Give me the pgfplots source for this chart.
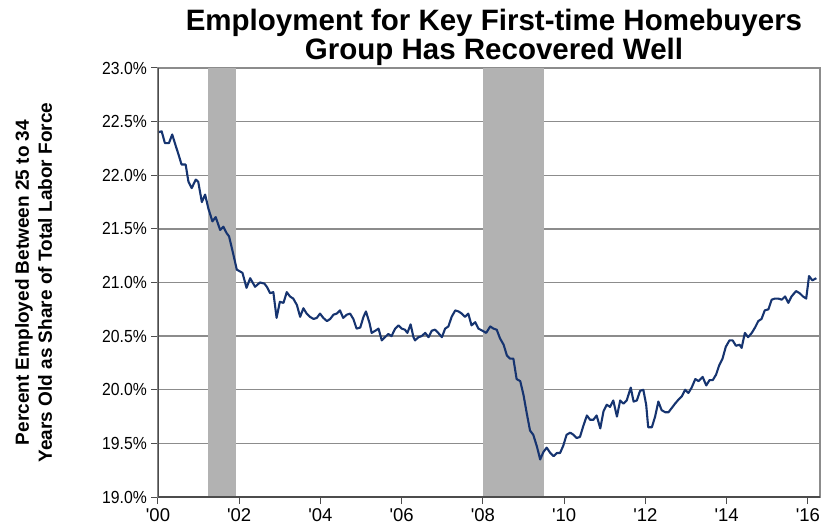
\documentclass[border=0pt]{standalone}
\usepackage{pgfplots}
\pgfplotsset{compat=1.18}
\usepackage{fontspec}
\setmainfont{Liberation Sans}

\definecolor{navy}{RGB}{22,52,112}
\definecolor{band}{RGB}{178,178,178}
\definecolor{gridgray}{RGB}{140,140,140}

\pgfplotstableread{
year share
2000.00 22.40
2000.09 22.41
2000.17 22.30
2000.27 22.30
2000.35 22.38
2000.44 22.27
2000.50 22.20
2000.58 22.10
2000.68 22.10
2000.75 21.94
2000.83 21.88
2000.93 21.96
2000.99 21.94
2001.08 21.75
2001.16 21.82
2001.24 21.69
2001.34 21.57
2001.42 21.61
2001.53 21.49
2001.61 21.52
2001.69 21.46
2001.75 21.43
2001.85 21.27
2001.94 21.12
2002.08 21.09
2002.18 20.95
2002.27 21.04
2002.39 20.96
2002.51 21.00
2002.62 20.99
2002.68 20.96
2002.76 20.90
2002.84 20.91
2002.92 20.67
2003.00 20.82
2003.09 20.81
2003.17 20.91
2003.25 20.87
2003.33 20.85
2003.42 20.79
2003.50 20.68
2003.58 20.76
2003.66 20.71
2003.74 20.68
2003.83 20.66
2003.91 20.67
2003.99 20.71
2004.07 20.67
2004.16 20.64
2004.24 20.66
2004.32 20.70
2004.40 20.71
2004.48 20.74
2004.56 20.67
2004.65 20.70
2004.73 20.71
2004.81 20.66
2004.89 20.57
2004.98 20.58
2005.06 20.68
2005.12 20.73
2005.21 20.62
2005.26 20.53
2005.35 20.55
2005.43 20.57
2005.51 20.46
2005.59 20.49
2005.67 20.52
2005.75 20.50
2005.84 20.57
2005.92 20.60
2006.00 20.57
2006.08 20.56
2006.14 20.53
2006.22 20.61
2006.29 20.49
2006.33 20.46
2006.41 20.49
2006.49 20.50
2006.58 20.53
2006.66 20.49
2006.74 20.55
2006.82 20.56
2006.90 20.53
2006.99 20.49
2007.07 20.57
2007.15 20.59
2007.23 20.68
2007.32 20.74
2007.40 20.73
2007.48 20.71
2007.56 20.68
2007.64 20.71
2007.72 20.60
2007.81 20.63
2007.89 20.57
2007.99 20.55
2008.08 20.53
2008.18 20.59
2008.26 20.57
2008.34 20.56
2008.42 20.48
2008.51 20.42
2008.59 20.32
2008.67 20.29
2008.75 20.29
2008.83 20.10
2008.92 20.08
2009.00 19.95
2009.08 19.78
2009.16 19.62
2009.24 19.58
2009.33 19.47
2009.41 19.35
2009.49 19.42
2009.57 19.46
2009.66 19.41
2009.74 19.38
2009.82 19.41
2009.90 19.41
2009.98 19.48
2010.06 19.58
2010.15 19.60
2010.23 19.58
2010.31 19.55
2010.39 19.56
2010.47 19.66
2010.56 19.76
2010.64 19.72
2010.72 19.72
2010.80 19.76
2010.89 19.64
2010.97 19.80
2011.05 19.86
2011.13 19.84
2011.21 19.90
2011.30 19.75
2011.38 19.90
2011.46 19.87
2011.54 19.90
2011.64 20.02
2011.71 19.89
2011.79 19.90
2011.87 19.99
2011.95 20.00
2012.02 19.86
2012.07 19.65
2012.16 19.65
2012.24 19.75
2012.32 19.89
2012.40 19.81
2012.49 19.79
2012.57 19.79
2012.65 19.83
2012.73 19.87
2012.82 19.91
2012.90 19.94
2012.98 20.00
2013.06 19.97
2013.14 20.02
2013.23 20.10
2013.31 20.08
2013.41 20.12
2013.50 20.04
2013.58 20.09
2013.66 20.09
2013.74 20.14
2013.82 20.23
2013.90 20.29
2013.98 20.40
2014.07 20.46
2014.15 20.46
2014.23 20.41
2014.32 20.42
2014.37 20.39
2014.45 20.53
2014.53 20.49
2014.62 20.53
2014.70 20.58
2014.78 20.64
2014.86 20.66
2014.94 20.74
2015.03 20.75
2015.11 20.84
2015.19 20.85
2015.27 20.85
2015.36 20.84
2015.44 20.87
2015.52 20.81
2015.60 20.87
2015.71 20.92
2015.80 20.90
2015.88 20.87
2015.96 20.85
2016.03 21.06
2016.11 21.02
2016.21 21.04
}\sharedata

\begin{document}
\begin{tikzpicture}
\path[use as bounding box] (-158pt,-35pt) rectangle (679pt,497pt);
\begin{axis}[
    at={(0,0)}, anchor=south west,
    scale only axis,
    width=662pt, height=429pt,
    xmin=2000, xmax=2016.3,
    ymin=19, ymax=23,
    xtick={2000,2002,...,2016},
    xticklabels={\textquotesingle00,\textquotesingle02,\textquotesingle04,\textquotesingle06,\textquotesingle08,\textquotesingle10,\textquotesingle12,\textquotesingle14,\textquotesingle16},
    ytick={19,19.5,...,23},
    yticklabels={19.0\%,19.5\%,20.0\%,20.5\%,21.0\%,21.5\%,22.0\%,22.5\%,23.0\%},
    ymajorgrids,
    grid style={gridgray, line width=1.3pt},
    axis line style={gridgray, line width=1.3pt},
    tick align=outside,
    xtick pos=left, ytick pos=left,
    major tick length=7pt,
    tick style={black!70, line width=1pt},
    ticklabel style={font=\fontsize{17.5}{20}\selectfont},
    xticklabel style={yshift=-1pt, font=\fontsize{18.5}{20}\selectfont},
    yticklabel style={xshift=-1pt, xscale=0.9},
    title={Employment for Key First-time Homebuyers\\Group Has Recovered Well},
    title style={at={(axis description cs:0.5,1)}, anchor=south, xshift=5pt, yshift=-7pt,
        align=center, font=\fontsize{29.5}{28.5}\selectfont\bfseries},
    ylabel={Percent Employed Between 25 to 34\\Years Old as Share of Total Labor Force},
    every axis y label/.style={at={(axis description cs:-0.188,0.5)}, anchor=center,
        rotate=90, align=center, font=\fontsize{19}{23}\selectfont\bfseries},
]
\addplot[fill=band, draw=none] coordinates {(2001.23,19) (2001.92,19) (2001.92,23) (2001.23,23)} -- cycle;
\addplot[fill=band, draw=none] coordinates {(2008.0,19) (2009.5,19) (2009.5,23) (2008.0,23)} -- cycle;
\addplot[navy, line width=2.1pt, line join=round] table[x=year, y=share] {\sharedata};
\draw[black!70, line width=1.2pt] (rel axis cs:0,1) -- (rel axis cs:0,0) -- (rel axis cs:1,0);
\end{axis}
\end{tikzpicture}
\end{document}
